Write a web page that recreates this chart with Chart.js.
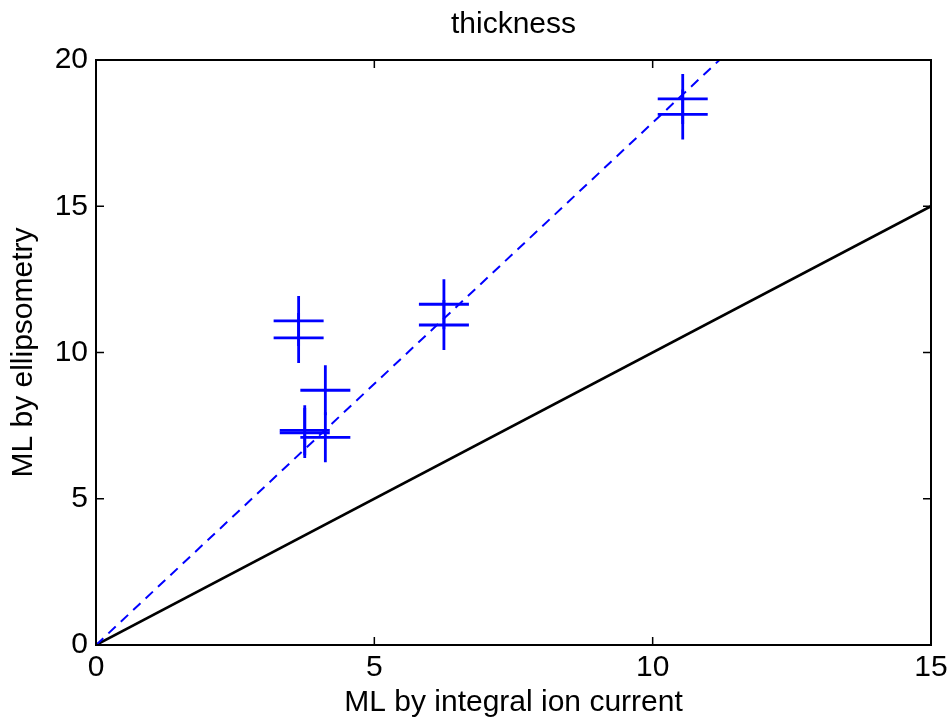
<!DOCTYPE html>
<html>
<head>
<meta charset="utf-8">
<script src="https://cdn.jsdelivr.net/npm/chart.js@4/dist/chart.umd.min.js"></script>
<style>
  html, body { margin: 0; padding: 0; background: #fff; }
  #wrap { width: 951px; height: 721px; }
</style>
</head>
<body>
<div id="wrap"><canvas id="grafik" width="951" height="721"></canvas></div>
<script>
// measured points (pairs of + markers)
const markerX = [3.64, 3.64, 4.12, 4.12, 3.75, 3.75, 6.25, 6.25, 10.54, 10.54];
const markerY = [11.08, 10.50, 8.71, 7.10, 7.34, 7.25, 11.65, 10.94, 18.67, 18.14];
// fit line (dashed) and y = x line
const fitX = [0, 11.2];
const fitY = [0, 20];
const unityX = [0, 15];
const unityY = [0, 15];
const xTicks = [0, 5, 10, 15];
const yTicks = [0, 5, 10, 15, 20];

const judul = 'thickness';
const labelX = 'ML by integral ion current';
const labelY = 'ML by ellipsometry';
const FONT = 'Liberation Sans, Arial, Helvetica, sans-serif';
const FS = 30;

const toXY = (xs, ys) => xs.map((x, i) => ({ x, y: ys[i] }));

// frame box, inward ticks and the title, like a matlab axes
const kotakPlugin = {
  id: 'kotak',
  afterDraw(chart) {
    const { ctx, chartArea: a, scales } = chart;
    ctx.save();
    ctx.strokeStyle = '#000';
    ctx.lineWidth = 2;
    ctx.strokeRect(a.left, a.top, a.right - a.left, a.bottom - a.top);
    ctx.lineWidth = 1.5;
    const len = 8;
    ctx.beginPath();
    scales.x.ticks.forEach(t => {
      const px = scales.x.getPixelForValue(t.value);
      ctx.moveTo(px, a.bottom); ctx.lineTo(px, a.bottom - len);
      ctx.moveTo(px, a.top); ctx.lineTo(px, a.top + len);
    });
    scales.y.ticks.forEach(t => {
      const py = scales.y.getPixelForValue(t.value);
      ctx.moveTo(a.left, py); ctx.lineTo(a.left + len, py);
      ctx.moveTo(a.right, py); ctx.lineTo(a.right - len, py);
    });
    ctx.stroke();

    ctx.fillStyle = '#000';
    ctx.font = FS + 'px ' + FONT;
    ctx.textAlign = 'center';
    ctx.textBaseline = 'middle';
    ctx.fillText(judul, (a.left + a.right) / 2, 25);
    ctx.restore();
  }
};

const ctx = document.getElementById('grafik').getContext('2d');
new Chart(ctx, {
  type: 'scatter',
  data: {
    datasets: [
      {
        label: 'y = x',
        data: toXY(unityX, unityY),
        showLine: true,
        borderColor: '#000',
        borderWidth: 2.6,
        pointRadius: 0,
        order: 3
      },
      {
        label: 'fit',
        data: toXY(fitX, fitY),
        showLine: true,
        borderColor: '#0000ff',
        borderWidth: 2,
        borderDash: [10, 7],
        pointRadius: 0,
        order: 2
      },
      {
        label: 'data',
        data: toXY(markerX, markerY),
        showLine: false,
        pointStyle: 'cross',
        pointRadius: 25,
        pointBorderWidth: 2.8,
        borderColor: '#0000ff',
        backgroundColor: '#0000ff',
        order: 1
      }
    ]
  },
  plugins: [kotakPlugin],
  options: {
    responsive: false,
    animation: false,
    layout: { autoPadding: false, padding: { top: 60, right: 20, left: 0, bottom: 0 } },
    plugins: {
      legend: { display: false },
      tooltip: { enabled: false },
      title: { display: false }
    },
    scales: {
      x: {
        type: 'linear',
        min: 0, max: 15,
        afterBuildTicks: s => { s.ticks = xTicks.map(v => ({ value: v })); },
        afterFit: s => { s.height = 76; s.paddingRight = 0; },
        grid: { display: false, drawTicks: false },
        border: { display: false },
        ticks: { color: '#000', font: { family: FONT, size: FS }, padding: 5, maxRotation: 0 },
        title: { display: true, text: labelX, color: '#000', font: { family: FONT, size: FS }, padding: 0 }
      },
      y: {
        type: 'linear',
        min: 0, max: 20,
        afterBuildTicks: s => { s.ticks = yTicks.map(v => ({ value: v })); },
        afterFit: s => { s.width = 96; s.paddingTop = 0; s.paddingBottom = 0; },
        grid: { display: false, drawTicks: false },
        border: { display: false },
        ticks: { color: '#000', font: { family: FONT, size: FS }, padding: 8 },
        title: { display: true, text: labelY, color: '#000', font: { family: FONT, size: FS }, padding: { top: 6, bottom: 0 } }
      }
    }
  }
});
</script>
</body>
</html>
